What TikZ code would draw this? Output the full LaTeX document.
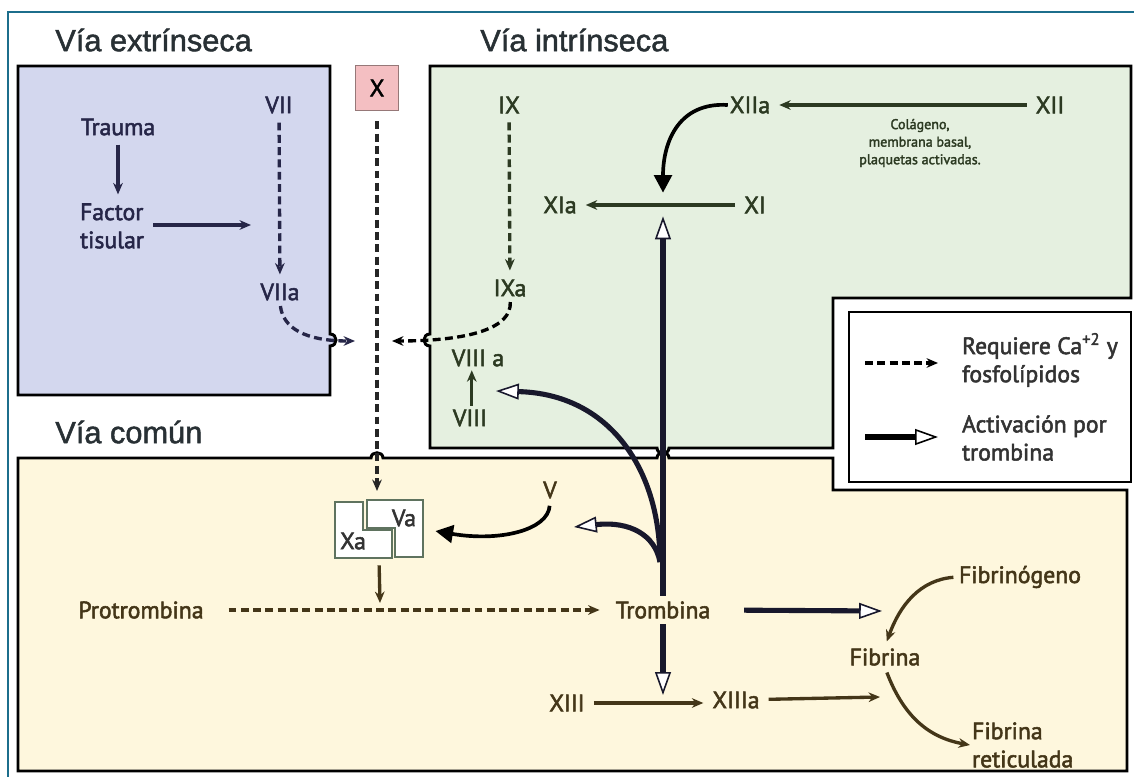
\documentclass[tikz,border=0pt]{standalone}
\usepackage{fontspec}
\setmainfont{PT Sans}
\newfontfamily\lblfont{PT Sans}[FakeBold=2.2]
\newfontfamily\titlefont{Liberation Sans}[FakeBold=1.6]
\usetikzlibrary{arrows.meta}

\definecolor{extfill}{RGB}{211,215,238}
\definecolor{intfill}{RGB}{229,240,224}
\definecolor{comfill}{RGB}{254,247,221}
\definecolor{xfill}{RGB}{244,191,194}
\definecolor{framecol}{RGB}{28,110,140}
\definecolor{navy}{RGB}{38,38,72}
\definecolor{dkgreen}{RGB}{44,58,34}
\definecolor{brown}{RGB}{68,54,24}
\definecolor{thrcol}{RGB}{24,24,44}
\definecolor{titlegray}{RGB}{40,48,52}

\begin{document}
\begin{tikzpicture}[x=0.02cm,y=-0.02cm]
\tikzstyle{lbl}=[inner sep=1pt,font=\lblfont\fontsize{13.5}{16}\selectfont]
\tikzstyle{title}=[anchor=west,inner sep=0pt,text=titlegray,font=\titlefont\fontsize{17.5}{20}\selectfont]
\tikzstyle{boxline}=[draw=black,line width=1.7pt,line join=miter]
\tikzstyle{sarr}=[line width=1.9pt,-{Stealth[length=6.5pt,width=5.5pt]},shorten <=4pt,shorten >=4pt]
\tikzstyle{darr}=[sarr,dash pattern=on 4.5pt off 2.5pt]
\tikzstyle{bigarr}=[line width=2.1pt,-{Triangle[length=10pt,width=10pt]}]
\tikzstyle{thr}=[draw=thrcol,line width=2.9pt,-{Triangle[open,fill=white,line width=0.9pt,length=13pt,width=9pt]}]
\tikzstyle{cplxpart}=[draw={rgb,255:red,95;green,115;blue,95},line width=1pt,fill=white]

\useasboundingbox (0,0) rectangle (1134,777);
\draw[framecol,line width=1pt] (8,777) -- (8,12) -- (1134,12);

% boxes
\path[boxline,fill=extfill] (18,66) -- (330,66) -- (330,334) .. controls (338,334) and (338,346) .. (330,346) -- (330,395) -- (18,395) -- cycle;
\path[boxline,fill=intfill] (430,66) -- (1131,66) -- (1131,298) -- (833,298) -- (833,448) -- (669,448) .. controls (669,455) and (657,455) .. (657,448) -- (430,448) -- (430,346) .. controls (422,346) and (422,334) .. (430,334) -- cycle;
\path[boxline,fill=comfill] (18,458) -- (371,458) .. controls (371,451) and (383,451) .. (383,458) -- (657,458) .. controls (657,451) and (669,451) .. (669,458) -- (833,458) -- (833,490) -- (1127,490) -- (1127,771) -- (18,771) -- cycle;
\path[boxline,fill=white] (849,312) rectangle (1131,482);

\node[title] (ttlext) at (55,40) {Vía extrínseca};
\node[title] (ttlint) at (480,40) {Vía intrínseca};
\node[title] (ttlcom) at (55,432) {Vía común};

\node[draw={rgb,255:red,150;green,120;blue,120},fill=xfill,minimum width=0.86cm,minimum height=0.9cm,lbl] (xbox) at (377,88) {X};

% extrinseca
\foreach \name/\point/\txt in {trauma/{118,127}/Trauma, vii/{279,105}/VII, viia/{280,292}/VIIa}
  \node[lbl,text=navy] (\name) at (\point) {\txt};
\node[lbl,text=navy,align=left] (ft) at (112,226) {Factor\\tisular};
\coordinate (ftend) at (258,225);
\coordinate (xleft) at (355,341);

\draw[sarr,navy] (trauma) -- (trauma |- ft.north);
\draw[sarr,navy] (ft.east |- ftend) -- (ftend);
\draw[darr,navy] (vii) -- (viia);
\draw[darr,navy,shorten <=2pt,shorten >=0pt] (viia.south) .. controls (283,328) and (305,341) .. (xleft);

% intrinseca
\foreach \name/\point/\txt in {ix/{509,105}/IX, ixa/{510,288}/IXa, viiia/{478,358}/VIII a, viii/{470,418}/VIII,
  xiia/{750,105}/XIIa, xii/{1050,105}/XII, xia/{560,205}/XIa, xi/{755,205}/XI}
  \node[lbl,text=dkgreen] (\name) at (\point) {\txt};
\node[inner sep=0pt,text=dkgreen,align=center,font=\lblfont\fontsize{8}{10}\selectfont] (colag) at (920,143) {Colágeno,\\membrana basal,\\plaquetas activadas.};
\coordinate (xright) at (392,341);
\coordinate (xijoin) at (663,205);

\draw[darr,dkgreen] (ix) -- (ixa);
\draw[darr,black,shorten <=2pt,shorten >=0pt] (ixa.south) .. controls (512,328) and (470,341) .. (xright);
\draw[sarr,dkgreen,shorten <=1pt,shorten >=1pt] ([xshift=1pt]viii.north) -- ([xshift=1pt]viii.north |- viiia.south);
\draw[sarr,dkgreen] (xii) -- (xiia);
\draw[sarr,dkgreen] (xi) -- (xia);
\draw[bigarr,black,shorten >=7pt] (xiia.west) .. controls (680,102) and (663,140) .. (xijoin);

% comun
\foreach \name/\point/\txt in {protr/{141,610}/Protrombina, trom/{663,610}/Trombina, v/{550,490}/V,
  fibgen/{1020,577}/Fibrinógeno, fib/{885,657}/Fibrina, xiii/{567,703}/XIII, xiiia/{736,700}/XIIIa}
  \node[lbl,text=brown] (\name) at (\point) {\txt};
\node[lbl,text=brown,align=left,anchor=west] (fibret) at (970,745) {Fibrina\\reticulada};

% complejo Xa-Va
\node[minimum width=1.76cm,minimum height=1.16cm,inner sep=0pt] (cplx) at (379,529) {};
\path[cplxpart] (335,502) -- (363,502) -- (363,530) -- (392,530) -- (392,558) -- (335,558) -- cycle;
\path[cplxpart] (367,500) -- (423,500) -- (423,557) -- (395,557) -- (395,528) -- (367,528) -- cycle;
\node[lbl,text=black!80] (xa) at (353,541) {Xa};
\node[lbl,text=black!80] (va) at (404,518) {Va};

\coordinate (cplxtop) at (377,491);
\coordinate (cplxdown) at (380,603);
\coordinate (tj) at (660,562);
\coordinate (viiitip) at (496,391);
\coordinate (vtip) at (574,527);
\coordinate (fibtop) at (882,611);
\coordinate (fibin) at (880,697);
\coordinate (xiiitip) at (663,695);

\draw[darr,black!85,shorten <=6pt,shorten >=0pt] (xbox) -- (cplxtop);
\draw[bigarr,black,shorten <=3pt,shorten >=7pt] (v.south) .. controls (548,530) and (500,542) .. (cplx.east);
\draw[sarr,brown,shorten >=0pt] (cplx.south) -- (cplxdown);
\draw[darr,brown,shorten <=13pt,shorten >=8pt] (protr) -- (trom);
\draw[sarr,brown] (xiii) -- (xiii -| xiiia.west);
\draw[sarr,brown,shorten >=0pt] (xiiia) -- (fibin);
\draw[sarr,brown,shorten <=2pt,shorten >=3pt] (fibgen.west) .. controls (920,580) and (900,605) .. (fib.north);
\draw[sarr,brown,shorten <=3pt,shorten >=0pt] (fib.south) .. controls (902,712) and (925,737) .. (fibret.west);

% trombina
\draw[thr,shorten <=2pt,shorten >=6.5pt] (trom.north) -- (xijoin);
\draw[thr,shorten <=2pt,shorten >=0pt] (trom.south) -- (xiiitip);
\draw[thr,shorten <=18pt,shorten >=0pt] (trom.east) -- (fibtop);
\draw[thr] (tj) .. controls (660,470) and (610,394) .. (viiitip);
\draw[thr] (tj) .. controls (655,535) and (630,521) .. (vtip);

% leyenda
\coordinate (lgda) at (865,363);
\coordinate (lgdb) at (938,363);
\coordinate (lgdc) at (865,437);
\coordinate (lgdd) at (938,437);
\draw[darr,black,shorten <=0pt,shorten >=0pt] (lgda) -- (lgdb);
\draw[thr,draw=black] (lgdc) -- (lgdd);
\node[lbl,anchor=west,align=left,text=black!80] (lgdtxta) at (960,360) {Requiere Ca\textsuperscript{+2} y\\fosfolípidos};
\node[lbl,anchor=west,align=left,text=black!80] (lgdtxtb) at (960,438) {Activación por\\trombina};
\end{tikzpicture}
\end{document}
